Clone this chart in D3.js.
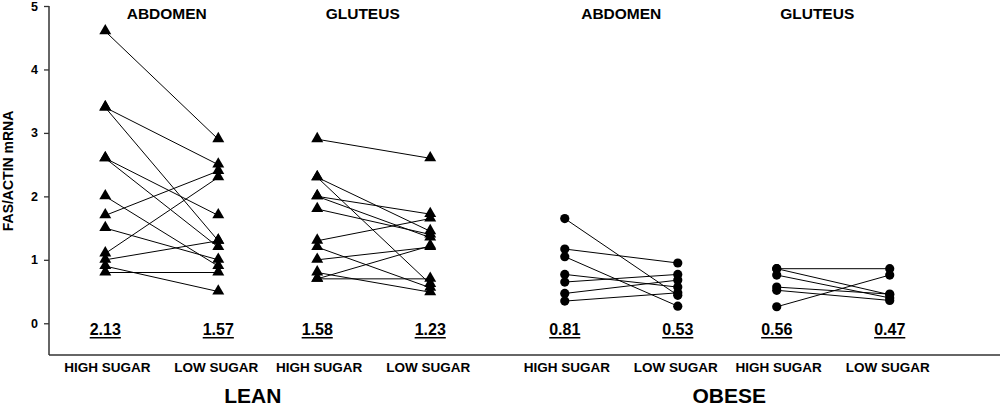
<!DOCTYPE html>
<html><head><meta charset="utf-8">
<script src="https://cdn.jsdelivr.net/npm/d3@7"></script>
<style>
body{margin:0;background:#fff;}
text{font-family:"Liberation Sans",Arial,sans-serif;font-weight:bold;fill:#000;}
</style></head>
<body><svg id="c" width="1002" height="409"></svg>
<script>
// ---- data ----
const groups = ["LEAN", "OBESE"];
const sites = ["ABDOMEN", "GLUTEUS"];
const conditions = ["HIGH SUGAR", "LOW SUGAR"];
const yTicks = [0, 1, 2, 3, 4, 5];
const yLabel = "FAS/ACTIN mRNA";

const leanAbdHigh = [4.6, 3.4, 3.4, 2.6, 2.6, 2.0, 1.7, 1.5, 1.1, 1.0, 0.9, 0.8];
const leanAbdLow  = [2.9, 2.5, 1.3, 1.7, 1.2, 0.9, 2.4, 1.0, 2.3, 1.3, 0.5, 0.8];
const leanGluHigh = [2.9, 2.3, 2.3, 2.0, 2.0, 1.8, 1.3, 1.2, 1.0, 0.8, 0.7, 0.7];
const leanGluLow  = [2.6, 1.45, 0.62, 1.72, 1.35, 1.4, 1.65, 0.56, 1.2, 0.49, 1.22, 0.7];
const obeseAbdHigh = [1.65, 1.17, 1.05, 0.77, 0.65, 0.47, 0.35];
const obeseAbdLow  = [0.44, 0.95, 0.27, 0.57, 0.77, 0.68, 0.48];
const obeseGluHigh = [0.86, 0.86, 0.76, 0.57, 0.52, 0.26];
const obeseGluLow  = [0.86, 0.45, 0.40, 0.46, 0.36, 0.76];

const meanLabels = {
  LEAN: {ABDOMEN: ["2.13", "1.57"], GLUTEUS: ["1.58", "1.23"]},
  OBESE: {ABDOMEN: ["0.81", "0.53"], GLUTEUS: ["0.56", "0.47"]}
};

const panels = [
  {group: "LEAN", site: "ABDOMEN", high: leanAbdHigh, low: leanAbdLow, marker: "triangle"},
  {group: "LEAN", site: "GLUTEUS", high: leanGluHigh, low: leanGluLow, marker: "triangle"},
  {group: "OBESE", site: "ABDOMEN", high: obeseAbdHigh, low: obeseAbdLow, marker: "circle"},
  {group: "OBESE", site: "GLUTEUS", high: obeseGluHigh, low: obeseGluLow, marker: "circle"}
];

// ---- scales ----
const svg = d3.select("#c");
const axisX = 49, axisBottom = 355;
const y = d3.scaleLinear().domain([-0.5, 5]).range([axisBottom, 6]);
const xGroup = d3.scaleBand().domain(groups).range([38, 957]).padding(0);
const xSite = d3.scalePoint().domain(sites).range([0, xGroup.bandwidth()]).padding(0.584);
const xCond = d3.scalePoint().domain(conditions).range([-56.5, 56.5]);
const px = (g, s, c) => xGroup(g) + xSite(s) + xCond(c);
const siteCenter = (g, s) => xGroup(g) + xSite(s);

// ---- axes ----
const yAxis = d3.axisLeft(y).tickValues(yTicks).tickSize(5).tickPadding(6).tickFormat(d3.format("d"));
const gy = svg.append("g").attr("transform", `translate(${axisX},0)`).call(yAxis);
gy.select(".domain").remove();
gy.selectAll(".tick line").attr("stroke", "#333").attr("stroke-width", 1.3);
gy.selectAll(".tick text").style("font-size", "12.5px").style("font-family", "Liberation Sans, Arial, sans-serif").style("font-weight", "bold").attr("fill", "#000");

svg.append("line").attr("x1", axisX).attr("x2", axisX).attr("y1", y(5)).attr("y2", axisBottom)
  .attr("stroke", "#333").attr("stroke-width", 1.5);
svg.append("line").attr("x1", axisX).attr("x2", 1000).attr("y1", axisBottom).attr("y2", axisBottom)
  .attr("stroke", "#333").attr("stroke-width", 1.5);

svg.append("text").attr("transform", `translate(13,${y(2.4)}) rotate(-90)`)
  .attr("text-anchor", "middle").style("font-size", "14px").text(yLabel);

// ---- panels ----
const titleNudge = {LEAN: {ABDOMEN: 5, GLUTEUS: -11}, OBESE: {ABDOMEN: 0, GLUTEUS: -16}};
const tri = d3.symbol().type(d3.symbolTriangle).size(62);
panels.forEach(p => {
  const xh = px(p.group, p.site, conditions[0]);
  const xl = px(p.group, p.site, conditions[1]);
  const g = svg.append("g");
  const pairs = p.high.map((h, i) => ({h: h, l: p.low[i]}));
  g.selectAll("line.pair").data(pairs).join("line").attr("class", "pair")
    .attr("x1", xh).attr("x2", xl).attr("y1", d => y(d.h)).attr("y2", d => y(d.l))
    .attr("stroke", "#000").attr("stroke-width", 1);
  const pts = [].concat(p.high.map(v => ({x: xh, v})), p.low.map(v => ({x: xl, v})));
  if (p.marker === "triangle") {
    g.selectAll("path.m").data(pts).join("path").attr("class", "m")
      .attr("d", tri).attr("transform", d => `translate(${d.x},${y(d.v) - 0.5})`).attr("fill", "#000");
  } else {
    g.selectAll("circle.m").data(pts).join("circle").attr("class", "m")
      .attr("cx", d => d.x).attr("cy", d => y(d.v)).attr("r", 4.6).attr("fill", "#000");
  }
  // site title
  svg.append("text").attr("x", siteCenter(p.group, p.site) + titleNudge[p.group][p.site]).attr("y", 19)
    .attr("text-anchor", "middle").style("font-size", "15.5px").text(p.site);
  // means + condition labels
  conditions.forEach((c, ci) => {
    const cx = px(p.group, p.site, c);
    const t = svg.append("text").attr("x", cx).attr("y", 335).attr("text-anchor", "middle")
      .style("font-size", "16px").text(meanLabels[p.group][p.site][ci]);
    const w = t.node().getComputedTextLength();
    svg.append("rect").attr("x", cx - w / 2).attr("y", 337).attr("width", w).attr("height", 1.5).attr("fill", "#000");
    svg.append("text").attr("x", cx + (ci === 0 ? 2 : -2)).attr("y", 372).attr("text-anchor", "middle")
      .style("font-size", "13.5px").text(c);
  });
});

// group labels
const groupNudge = {LEAN: -15, OBESE: 2};
groups.forEach(gname => {
  svg.append("text").attr("x", xGroup(gname) + xGroup.bandwidth() / 2 + groupNudge[gname]).attr("y", 403)
    .attr("text-anchor", "middle").style("font-size", "21px").text(gname);
});
</script></body></html>
